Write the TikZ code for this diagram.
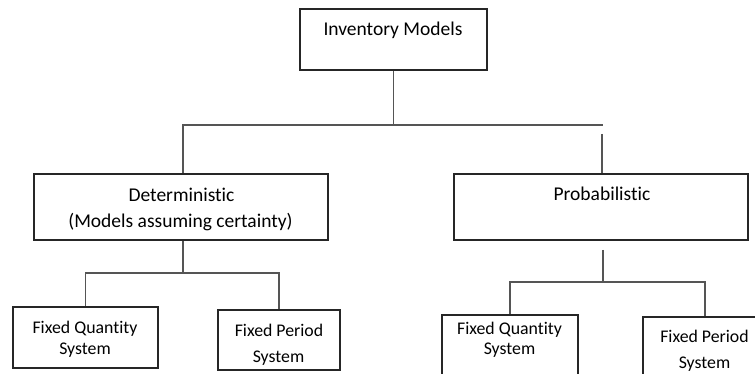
\documentclass[tikz,border=0pt]{standalone}
\usepackage{fontspec}
\setmainfont[Ligatures={NoCommon}]{Carlito}
\definecolor{boxline}{HTML}{262626}
\definecolor{linkgray}{HTML}{555555}
\begin{document}
\begin{tikzpicture}[x=1pt,y=-1pt,
  box/.style={draw=boxline, line width=1.6pt, fill=white, inner sep=0pt},
  link/.style={draw=linkgray, line width=1.6pt},
  big/.style={font=\fontsize{19.5}{23}\selectfont, anchor=base, inner sep=0pt, text=black},
  small/.style={font=\fontsize{17.8}{21}\selectfont, anchor=base, inner sep=0pt, text=black}]
\useasboundingbox (0,0) rectangle (755,374);
\clip (0,0) rectangle (755,374);
\fill[white] (0,0) rectangle (755,374);

% boxes
\node[box, minimum width=187pt, minimum height=61pt] (inv)  at (393.5,39.5) {};
\node[box, minimum width=294pt, minimum height=66pt] (det)  at (181,207) {};
\node[box, minimum width=294pt, minimum height=66pt] (prob) at (601,207) {};
\node[box, minimum width=145pt, minimum height=61pt] (fq1)  at (85.5,337.5) {};
\node[box, minimum width=122pt, minimum height=60pt] (fp1)  at (279,340) {};
\node[box, minimum width=136pt, minimum height=65pt] (fq2)  at (510,347.5) {};
\node[box, minimum width=124pt, minimum height=63pt] (fp2)  at (705,348.5) {};

% labels
\node[big]   (invT)  at (393,36)    {Inventory Models};
\node[big]   (detT)  at (181.5,202) {Deterministic};
\node[big]   (detS)  at (180.5,228) {(Models assuming certainty)};
\node[big]   (probT) at (602,201)   {Probabilistic};
\node[small] (fq1a)  at (85,333)    {Fixed Quantity};
\node[small] (fq1b)  at (85,354)    {System};
\node[small] (fp1a)  at (279,336)   {Fixed Period};
\node[small] (fp1b)  at (278.5,362) {System};
\node[small] (fq2a)  at (509.5,334) {Fixed Quantity};
\node[small] (fq2b)  at (509.5,354) {System};
\node[small] (fp2a)  at (704.5,342) {Fixed Period};
\node[small] (fp2b)  at (704.5,368) {System};

% top level connectors
\coordinate (busL) at (183,125);
\coordinate (busR) at (603,125);
\coordinate (probIn) at (602,134);
\draw[link] (inv.south) -- (inv.south |- busL);
\draw[link] (busL |- det.north) -- (busL) -- (busR);
\draw[link] (probIn) -- (probIn |- prob.north);

% deterministic branch
\coordinate (detJ) at (183,273);
\draw[link] (detJ |- det.south) -- (detJ);
\draw[link] (fq1.north) -- (fq1.north |- detJ) -- (fp1.north |- detJ) -- (fp1.north);

% probabilistic branch
\coordinate (probOut) at (603,250);
\coordinate (probJ) at (603,282);
\draw[link] (probOut) -- (probJ);
\draw[link] (fq2.north) -- (fq2.north |- probJ) -- (fp2.north |- probJ) -- (fp2.north);
\end{tikzpicture}
\end{document}
